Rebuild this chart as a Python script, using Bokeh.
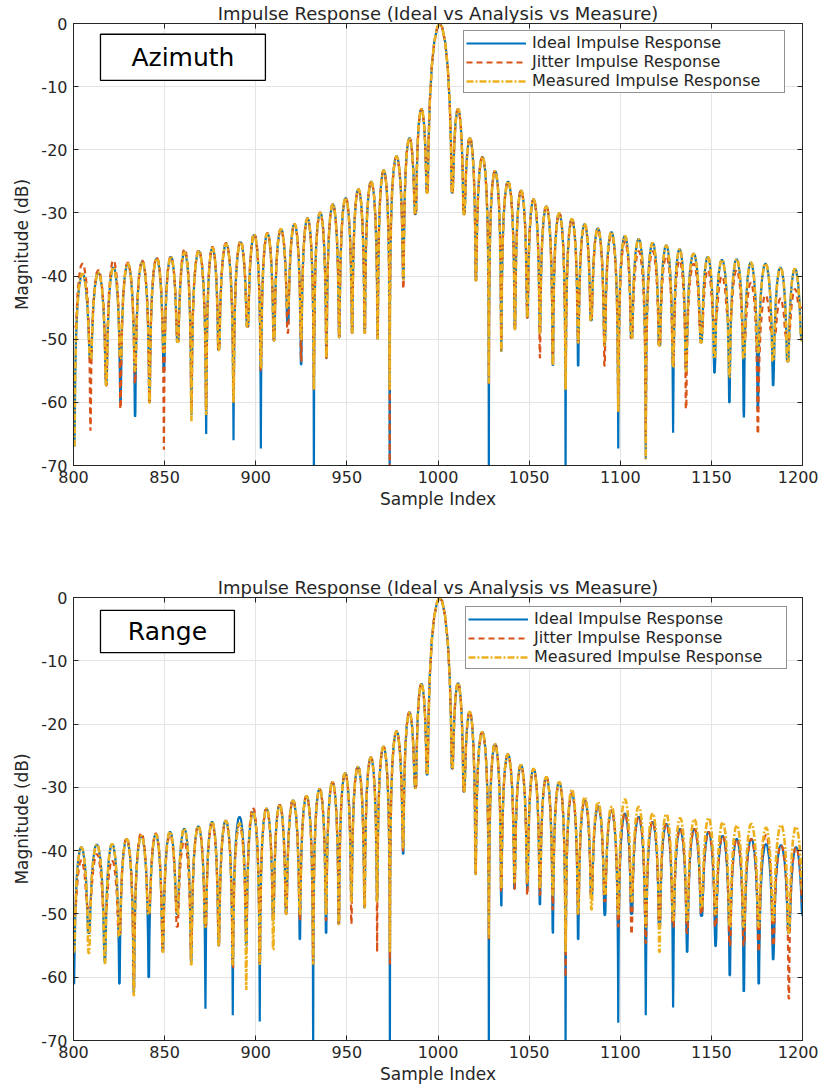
from bokeh.plotting import figure
from bokeh.models import Range1d, LinearAxis, Legend, LegendItem, Label, FixedTicker, BoxAnnotation
from bokeh.layouts import column
from bokeh.embed import file_html
from bokeh.resources import INLINE

# ---------------- data ----------------
TITLE = "Impulse Response (Ideal vs Analysis vs Measure)"
SERIES = ["Ideal Impulse Response", "Jitter Impulse Response", "Measured Impulse Response"]
X_TICKS = [800, 850, 900, 950, 1000, 1050, 1100, 1150, 1200]
Y_TICKS = [-70, -60, -50, -40, -30, -20, -10, 0]

# Azimuth: sample positions of the nulls between lobes
AZ_NULL_X = [800.5, 809.3, 818.0, 825.8, 833.8, 841.7, 849.6, 857.2, 864.7, 872.8,
             879.7, 887.8, 895.5, 902.8, 910.0, 917.6, 924.9, 931.9, 938.8, 945.8,
             952.9, 959.8, 966.9, 973.5, 981.0, 987.7, 994.1, 1007.8, 1014.2, 1020.8,
             1027.9, 1034.7, 1042.2, 1049.0, 1055.9, 1063.0, 1070.0, 1076.9, 1084.0, 1091.4,
             1098.9, 1106.2, 1114.0, 1121.5, 1129.0, 1136.1, 1144.4, 1151.7, 1159.9, 1167.8,
             1175.5, 1183.9, 1191.9, 1199.8]
# lobe peak levels (dB)
AZ_PEAK_IDEAL = [-39.6, -39.4, -38.6, -38.0, -37.7, -37.2, -36.9, -36.2, -36.0, -35.5,
                 -34.9, -34.6, -33.4, -33.2, -32.5, -31.7, -30.8, -29.9, -28.6, -27.6,
                 -26.2, -25.0, -23.2, -21.0, -18.1, -13.5, 0.0, -13.5, -18.1, -21.1,
                 -23.3, -25.0, -26.4, -27.8, -28.9, -30.0, -30.9, -31.7, -32.4, -33.0,
                 -33.6, -34.1, -34.7, -35.1, -35.7, -36.4, -36.9, -37.4, -37.3, -37.8,
                 -38.0, -38.6, -38.8]
AZ_PEAK_JITTER = [-38.0, -39.0, -37.5, -37.8, -37.5, -37.0, -36.9, -35.7, -35.8, -35.3,
                  -34.7, -34.4, -33.3, -33.1, -32.5, -31.7, -30.8, -29.9, -28.6, -27.6,
                  -26.2, -25.0, -23.2, -21.0, -18.1, -13.5, 0.0, -13.5, -18.1, -21.1,
                  -23.3, -25.0, -26.4, -27.8, -28.9, -30.0, -31.0, -32.0, -32.6, -33.5,
                  -34.5, -36.0, -36.0, -36.8, -37.5, -38.0, -39.0, -40.0, -39.0, -41.0,
                  -43.0, -43.5, -42.0]
AZ_PEAK_MEAS = [-39.6, -39.4, -38.6, -38.0, -37.7, -37.2, -36.9, -36.2, -36.0, -35.5,
                -34.9, -34.6, -33.4, -33.2, -32.5, -31.7, -30.8, -29.9, -28.6, -27.6,
                -26.2, -25.0, -23.2, -21.0, -18.1, -13.5, 0.0, -13.5, -18.1, -21.1,
                -23.3, -25.0, -26.4, -27.8, -28.9, -30.0, -30.9, -31.7, -32.4, -33.0,
                -33.6, -34.1, -34.7, -35.1, -35.7, -36.4, -36.9, -37.4, -37.3, -37.8,
                -38.0, -38.6, -38.8]
# depth reached at each null (dB)
AZ_NULL_IDEAL = [-67.0, -53.0, -57.3, -60.0, -62.3, -60.0, -55.0, -50.4, -62.0, -65.0,
                 -51.7, -66.0, -48.0, -67.3, -50.2, -47.5, -54.0, -75.0, -53.0, -49.7,
                 -49.0, -49.0, -50.0, -75.0, -40.5, -30.2, -26.8, -26.8, -30.2, -40.7,
                 -75.0, -52.0, -48.4, -46.6, -49.0, -54.2, -75.0, -54.2, -47.0, -51.0,
                 -67.3, -49.8, -69.0, -51.0, -64.8, -55.0, -50.5, -55.3, -60.0, -62.4,
                 -61.0, -57.3, -53.5, -50.2]
AZ_NULL_JITTER = [-48.0, -64.5, -57.3, -61.0, -57.0, -60.0, -67.5, -50.4, -61.0, -62.0,
                  -51.7, -60.0, -48.0, -55.0, -50.2, -49.0, -53.5, -58.0, -53.0, -49.7,
                  -49.0, -49.0, -50.0, -75.0, -42.0, -30.2, -26.8, -26.8, -30.2, -40.7,
                  -57.0, -52.0, -48.4, -46.6, -53.0, -54.2, -58.0, -50.5, -47.0, -54.2,
                  -61.5, -49.8, -66.0, -51.0, -54.4, -61.0, -49.0, -47.0, -47.0, -50.0,
                  -65.0, -49.0, -50.0, -45.0]
AZ_NULL_MEAS = [-67.0, -53.0, -57.3, -53.0, -55.0, -60.0, -52.0, -50.4, -63.0, -62.0,
                -51.7, -60.0, -48.0, -54.5, -50.2, -45.0, -50.0, -58.0, -53.0, -49.7,
                -49.0, -49.0, -50.0, -58.0, -40.5, -30.2, -26.8, -26.8, -30.2, -40.7,
                -57.0, -52.0, -48.4, -46.6, -49.0, -54.2, -58.0, -50.5, -47.0, -51.0,
                -61.5, -49.8, -69.0, -51.0, -54.4, -55.0, -50.5, -53.0, -56.0, -53.0,
                -52.0, -53.4, -53.5, -50.2]

# Range
RG_NULL_X = [800.2, 808.4, 817.2, 825.2, 833.1, 841.3, 849.0, 856.9, 864.6, 872.4,
             879.7, 887.4, 894.8, 902.2, 909.6, 916.7, 924.2, 931.5, 938.6, 945.6,
             952.5, 959.7, 966.6, 973.6, 980.9, 987.7, 994.1, 1007.8, 1014.2, 1020.6,
             1027.9, 1034.7, 1042.0, 1049.0, 1055.9, 1063.0, 1070.0, 1076.9, 1084.2, 1091.5,
             1098.9, 1106.2, 1114.0, 1121.5, 1129.0, 1136.7, 1144.6, 1152.3, 1160.1, 1167.8,
             1176.0, 1183.9, 1192.5, 1200.4]
RG_PEAK_IDEAL = [-39.4, -39.0, -38.9, -38.1, -37.6, -37.4, -37.0, -36.5, -36.1, -35.4,
                 -35.2, -34.6, -33.9, -33.3, -32.7, -32.0, -31.3, -30.2, -29.1, -27.7,
                 -26.7, -25.2, -23.5, -21.1, -18.1, -13.6, 0.0, -13.5, -18.0, -21.2,
                 -23.1, -24.7, -26.4, -27.0, -28.3, -29.1, -30.9, -32.0, -32.9, -33.6,
                 -34.1, -34.6, -35.4, -35.7, -36.5, -36.5, -37.0, -37.6, -38.1, -38.1,
                 -38.9, -39.1, -39.4]
RG_PEAK_JITTER = [-41.5, -40.5, -41.5, -38.0, -37.2, -37.2, -37.5, -38.5, -36.1, -35.8,
                  -35.3, -35.8, -33.2, -33.3, -32.7, -32.0, -31.3, -30.2, -29.1, -27.7,
                  -26.7, -25.2, -23.5, -21.1, -18.1, -13.6, 0.0, -13.5, -18.0, -21.2,
                  -23.1, -24.7, -26.4, -27.0, -28.3, -29.1, -30.9, -32.0, -32.9, -33.6,
                  -34.1, -34.6, -35.4, -35.7, -36.5, -36.5, -37.0, -37.6, -38.1, -38.1,
                  -37.5, -39.1, -39.4]
RG_PEAK_MEAS = [-39.4, -39.0, -38.9, -38.1, -37.6, -37.4, -37.0, -36.5, -36.1, -35.4,
                -35.2, -35.6, -33.9, -33.3, -32.7, -32.0, -31.3, -30.2, -29.1, -27.7,
                -26.7, -25.2, -23.5, -21.1, -18.1, -13.6, 0.0, -13.5, -18.0, -21.2,
                -23.1, -24.7, -26.4, -27.0, -28.3, -29.1, -30.3, -31.5, -32.3, -33.0,
                -31.8, -33.0, -34.1, -34.2, -34.8, -35.0, -34.8, -35.5, -36.0, -35.7,
                -36.3, -35.9, -36.2]
RG_NULL_IDEAL = [-61.0, -53.0, -57.5, -61.0, -62.5, -60.0, -55.9, -50.0, -57.5, -65.0,
                 -55.0, -66.0, -55.0, -67.0, -51.0, -50.0, -54.0, -75.0, -53.0, -51.6,
                 -48.0, -49.0, -48.0, -75.0, -40.5, -30.1, -28.0, -27.0, -30.7, -43.7,
                 -75.0, -48.7, -46.0, -46.0, -48.5, -53.0, -75.0, -54.0, -47.0, -50.2,
                 -67.2, -50.0, -66.0, -52.0, -64.8, -56.0, -50.3, -55.1, -59.7, -62.3,
                 -61.0, -57.2, -53.0, -50.3]
RG_NULL_JITTER = [-50.0, -49.0, -50.0, -53.5, -62.0, -50.0, -55.9, -52.0, -57.0, -52.0,
                  -55.0, -58.5, -53.0, -58.0, -51.0, -50.0, -51.0, -58.0, -51.0, -51.6,
                  -51.6, -49.0, -56.0, -58.0, -40.0, -30.1, -28.0, -27.0, -30.7, -43.7,
                  -54.0, -46.5, -46.0, -47.0, -47.0, -49.3, -60.0, -50.0, -47.0, -48.0,
                  -52.0, -53.2, -54.6, -52.0, -52.0, -53.0, -50.0, -52.0, -55.0, -55.0,
                  -56.0, -55.0, -63.4, -48.0]
RG_NULL_MEAS = [-56.0, -56.2, -57.8, -53.5, -63.0, -50.0, -56.0, -50.0, -58.0, -52.0,
                -55.0, -58.0, -62.0, -58.0, -55.6, -50.0, -50.0, -58.0, -50.0, -51.6,
                -48.0, -49.0, -48.0, -56.0, -39.5, -30.1, -28.0, -27.0, -30.7, -43.7,
                -53.8, -46.0, -45.0, -45.0, -46.0, -47.0, -56.0, -50.0, -49.3, -47.0,
                -50.0, -48.0, -52.0, -56.0, -51.0, -51.0, -49.0, -50.0, -52.0, -52.0,
                -52.0, -51.0, -53.0, -46.0]

# fixed shape of one lobe between two nulls (fraction of lobe width, dB below its peak)
LOBE_FRAC = [0.02, 0.05, 0.10, 0.18, 0.28, 0.40, 0.50, 0.60, 0.72, 0.82, 0.90, 0.95, 0.98]
LOBE_DROP = [-24.0, -16.1, -10.2, -5.4, -2.3, -0.4, 0.0, -0.4, -2.3, -5.4, -10.2, -16.1, -24.0]
MAIN_DROP = [-27.6, -19.2, -12.6, -6.9, -3.0, -0.6, 0.0, -0.6, -3.0, -6.9, -12.6, -19.2, -27.6]

FONT = "DejaVu Sans"
TXT = "#262626"
COLORS = ["#0072BD", "#D95319", "#EDB120"]
DASHES = ["solid", "6 4", "7 2 2 2"]
WIDTHS = [2.2, 2.2, 2.6]


def trace(null_x, null_db, peak_db):
    main = peak_db.index(max(peak_db))
    xs, ys = [], []
    for i, pk in enumerate(peak_db):
        a, b = null_x[i], null_x[i + 1]
        xs.append(a)
        ys.append(null_db[i])
        drops = MAIN_DROP if i == main else LOBE_DROP
        for f, d in zip(LOBE_FRAC, drops):
            floor = null_db[i] if f < 0.5 else null_db[i + 1]
            xs.append(a + f * (b - a))
            ys.append(max(pk + d, floor))
    xs.append(null_x[-1])
    ys.append(null_db[-1])
    return xs, ys


def panel(null_x, nulls, peaks, tag, tag_box, height, top, bottom, leg_xy):
    p = figure(width=818, height=height, x_range=Range1d(800, 1200), y_range=Range1d(-70, 0),
               output_backend="svg", toolbar_location=None,
               min_border_left=73, min_border_right=16, min_border_top=top, min_border_bottom=bottom,
               x_axis_label="Sample Index", y_axis_label="Magnitude (dB)")
    p.title.text = TITLE
    p.title.align = "center"
    p.title.text_font = FONT
    p.title.text_font_size = "18px"
    p.title.text_font_style = "normal"
    p.title.text_color = TXT
    p.title.standoff = 0
    p.outline_line_color = TXT
    p.outline_line_width = 1

    for ax, ticks in ((p.xaxis, X_TICKS), (p.yaxis, Y_TICKS)):
        ax.ticker = FixedTicker(ticks=ticks)
        ax.major_label_overrides = {t: str(t) for t in ticks}
        ax.major_label_text_font = FONT
        ax.major_label_text_font_size = "16px"
        ax.major_label_text_color = TXT
        ax.axis_label_text_font = FONT
        ax.axis_label_text_font_size = "17px"
        ax.axis_label_text_font_style = "normal"
        ax.axis_label_text_color = TXT
        ax.major_tick_in = 5
        ax.major_tick_out = 0
        ax.minor_tick_line_color = None
        ax.axis_line_color = TXT
        ax.major_tick_line_color = TXT
    p.xaxis.major_label_standoff = 5
    p.xaxis.axis_label_standoff = 3
    p.yaxis.major_label_standoff = 6
    p.yaxis.axis_label_standoff = 6

    for loc, ticks in (("above", X_TICKS), ("right", Y_TICKS)):
        ax = LinearAxis(ticker=FixedTicker(ticks=ticks), major_label_text_font_size="1px",
                        major_label_text_color=None, major_label_standoff=0,
                        major_tick_in=5, major_tick_out=0,
                        minor_tick_line_color=None, axis_line_color=TXT,
                        major_tick_line_color=TXT)
        p.add_layout(ax, loc)

    p.xgrid.ticker = FixedTicker(ticks=X_TICKS)
    p.ygrid.ticker = FixedTicker(ticks=Y_TICKS)
    p.grid.grid_line_color = "#e4e4e4"
    p.grid.grid_line_width = 1

    items = []
    for k in range(3):
        xs, ys = trace(null_x, nulls[k], peaks[k])
        r = p.line(xs, ys, line_color=COLORS[k], line_width=WIDTHS[k], line_dash=DASHES[k])
        items.append(LegendItem(label=SERIES[k], renderers=[r]))

    leg = Legend(items=items, location=leg_xy, margin=0, padding=2, spacing=0,
                 glyph_width=60, glyph_height=18, label_height=18, label_width=250,
                 label_standoff=6, label_text_font=FONT, label_text_font_size="16px",
                 label_text_color=TXT, border_line_color=TXT, border_line_width=1,
                 background_fill_color="white", background_fill_alpha=1.0)
    p.add_layout(leg)

    x0, x1, y0, y1 = tag_box
    p.add_layout(BoxAnnotation(left=x0, right=x1, bottom=y0, top=y1, fill_color="white",
                               fill_alpha=1.0, line_color="black", line_alpha=1.0,
                               line_width=1.3))
    p.add_layout(Label(x=(x0 + x1) / 2, y=(y0 + y1) / 2, text=tag, text_align="center",
                       text_baseline="middle", text_font=FONT, text_font_size="25px",
                       text_color="black"))
    return p


p1 = panel(AZ_NULL_X, [AZ_NULL_IDEAL, AZ_NULL_JITTER, AZ_NULL_MEAS],
           [AZ_PEAK_IDEAL, AZ_PEAK_JITTER, AZ_PEAK_MEAS],
           "Azimuth", (814.8, 905.3, -9.0, -1.7), 570, 16, 105, (390, 372))
p2 = panel(RG_NULL_X, [RG_NULL_IDEAL, RG_NULL_JITTER, RG_NULL_MEAS],
           [RG_PEAK_IDEAL, RG_PEAK_JITTER, RG_PEAK_MEAS],
           "Range", (814.8, 888.3, -8.7, -2.05), 517, 27, 47, (392, 371))

layout = column(p1, p2, spacing=0)
open("out.html", "w").write(file_html(layout, INLINE))
